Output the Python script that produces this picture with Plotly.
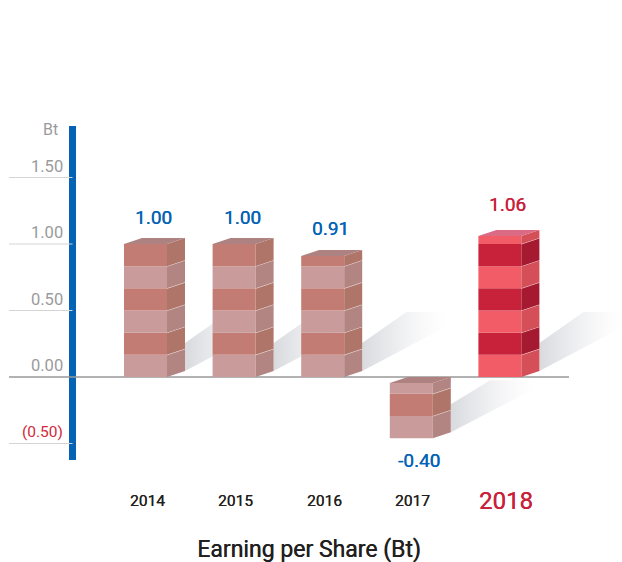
import plotly.graph_objects as go

categories = ["2014", "2015", "2016", "2017", "2018"]
values = [1.00, 1.00, 0.91, -0.40, 1.06]
value_labels = ["1.00", "1.00", "0.91", "-0.40", "1.06"]
bar_bottom = [0, 0, 0, -0.46, 0]
bar_top = [1.00, 1.00, 0.91, -0.045, 1.06]
y_ticks = [1.5, 1.0, 0.5, 0.0, -0.5]
y_tick_labels = ["1.50", "1.00", "0.50", "0.00", "(0.50)"]

W, H = 622, 562
PX_X, PX_Y = 88.6, 133.0          # pixels per category / per y unit
X0_PX, Y0_PX = 145.5, 377.0
x_range = [-X0_PX / PX_X, (W - X0_PX) / PX_X]
y_range = [(Y0_PX - H) / PX_Y, Y0_PX / PX_Y]
dx = lambda p: p / PX_X
dy = lambda p: p / PX_Y

BRICK = 1 / 6
BAR_W, DEPTH_X, DEPTH_Y = dx(43), dx(18), dy(6)
MUTED = dict(a="#C99B9A", b="#C37C74", sa="#B28583", sb="#AF7568", top="#AD8280")
RED = dict(a="#F15C66", b="#C8223B", sa="#D44F57", sb="#A51A30", top="#DB6A85")
BLUE, REDTXT, GRAY = "#0463B4", "#C8223B", "#9A9A9C"
FONT = "Roboto"


def heavy(color):
    return f"0.35px 0 0 {color}"


fig = go.Figure()

# blue axis, gridlines
x_grid_l, x_axis_r = (9 - X0_PX) / PX_X, (569 - X0_PX) / PX_X
x_blue = (72.5 - X0_PX) / PX_X
fig.add_trace(go.Scatter(x=[x_blue, x_blue], y=[1.887, -0.624], mode="lines",
                         line=dict(color=BLUE, width=7), hoverinfo="skip"))
for t in y_ticks:
    if t == 0:
        continue
    fig.add_trace(go.Scatter(x=[x_grid_l, x_blue], y=[t, t], mode="lines",
                             line=dict(color="#D4D4D4", width=1), hoverinfo="skip"))
fig.add_trace(go.Scatter(x=[x_grid_l, x_axis_r], y=[0, 0], mode="lines",
                         line=dict(color="#999999", width=1.3), hoverinfo="skip"))

# ground shadows
for i, lo in enumerate(bar_bottom):
    xl = i + BAR_W / 2 + DEPTH_X
    rise = 58 if lo < 0 else 65
    xs = [xl, xl, xl + dx(rise * 0.68), xl + dx(rise / 0.58), xl]
    ys = [lo + dy(6), lo + dy(34), lo + dy(rise), lo + dy(rise), lo + dy(6)]
    fig.add_trace(go.Scatter(
        x=xs, y=ys, mode="none", fill="toself", hoverinfo="skip",
        fillgradient=dict(type="horizontal", start=xl, stop=xl + dx(92),
                          colorscale=[[0, "rgba(216,218,222,1)"],
                                      [0.35, "rgba(232,233,236,0.85)"],
                                      [0.7, "rgba(245,245,247,0.5)"],
                                      [1, "rgba(255,255,255,0)"]])))

# bricks: fronts as bars, sides and tops as polygons on an overlaid axis pair
for i, (lo, hi) in enumerate(zip(bar_bottom, bar_top)):
    pal = RED if i == 4 else MUTED
    edges = [lo]
    while edges[-1] + BRICK < hi - 0.005:
        edges.append(edges[-1] + BRICK)
    edges.append(hi)
    xr = i + BAR_W / 2
    for k in range(len(edges) - 1):
        b, t = edges[k], edges[k + 1]
        light = k % 2 == 0
        fig.add_trace(go.Bar(x=[i], y=[t - b], base=[b], width=BAR_W,
                             marker=dict(color=pal["a"] if light else pal["b"], line_width=0),
                             xaxis="x2", yaxis="y2", hoverinfo="skip"))
        fig.add_trace(go.Scatter(
            x=[xr, xr + DEPTH_X, xr + DEPTH_X, xr, xr],
            y=[b, b + DEPTH_Y, t + DEPTH_Y, t, b],
            mode="none", fill="toself", fillcolor=pal["sa"] if light else pal["sb"],
            xaxis="x2", yaxis="y2", hoverinfo="skip"))
        if k < len(edges) - 2:
            fig.add_trace(go.Scatter(
                x=[xr, xr + DEPTH_X], y=[t, t + DEPTH_Y], mode="lines",
                line=dict(color="rgba(255,255,255,0.7)", width=1),
                xaxis="x2", yaxis="y2", hoverinfo="skip"))
    fig.add_trace(go.Scatter(
        x=[i - BAR_W / 2, xr, xr + DEPTH_X, i - BAR_W / 2 + DEPTH_X, i - BAR_W / 2],
        y=[hi, hi, hi + DEPTH_Y, hi + DEPTH_Y, hi],
        mode="none", fill="toself", fillcolor=pal["top"],
        xaxis="x2", yaxis="y2", hoverinfo="skip"))

ann = []
# y tick labels
x_lab = (65 - X0_PX) / PX_X
for t, s in zip(y_ticks, y_tick_labels):
    neg = t < 0
    ann.append(dict(x=x_lab, y=t, text=s, xanchor="right", yanchor="middle",
                    yshift=11.5, showarrow=False,
                    font=dict(family=FONT, size=15.5 if neg else 16.5,
                              color="#D3283C" if neg else GRAY)))
ann.append(dict(x=x_lab - dx(5), y=1.86, text="Bt", xanchor="right", yanchor="middle",
                showarrow=False, font=dict(family=FONT, size=16, color=GRAY)))
# value labels
for i, (v, s, lo, hi) in enumerate(zip(values, value_labels, bar_bottom, bar_top)):
    neg = v < 0
    col = REDTXT if i == 4 else BLUE
    ann.append(dict(x=i + dx(8), y=lo if neg else hi, text=s, xanchor="center", yanchor="middle",
                    yshift=-22 if neg else (32 if i == 4 else 27), showarrow=False,
                    font=dict(family=FONT, size=19, color=col, shadow=heavy(col))))
# category labels
y_cat = (Y0_PX - 501) / PX_Y
for i, c in enumerate(categories):
    last = i == 4
    col = REDTXT if last else "#231F20"
    ann.append(dict(x=i + dx(6 if last else 1.5), y=y_cat, text=c, xanchor="center", yanchor="middle",
                    showarrow=False,
                    font=dict(family=FONT, size=24 if last else 15.5, color=col, shadow=heavy(col))))

axis_off = dict(visible=False, fixedrange=True)
fig.update_layout(
    width=W, height=H, autosize=False,
    margin=dict(l=0, r=0, t=0, b=0),
    paper_bgcolor="white", plot_bgcolor="rgba(0,0,0,0)",
    showlegend=False, barmode="overlay",
    xaxis=dict(range=x_range, **axis_off),
    yaxis=dict(range=y_range, **axis_off),
    xaxis2=dict(range=x_range, overlaying="x", **axis_off),
    yaxis2=dict(range=y_range, overlaying="y", **axis_off),
    title=dict(text="Earning per Share (Bt)", x=309 / W, xanchor="center", xref="paper",
               y=1 - 549 / H, yanchor="middle", yref="paper",
               font=dict(family=FONT, size=23, color="#231F20", shadow=heavy("#231F20"))),
    annotations=ann,
)
fig.write_html("out.html", config=dict(displayModeBar=False),
               post_script="document.body.style.margin='0';document.body.style.overflow='hidden';")
